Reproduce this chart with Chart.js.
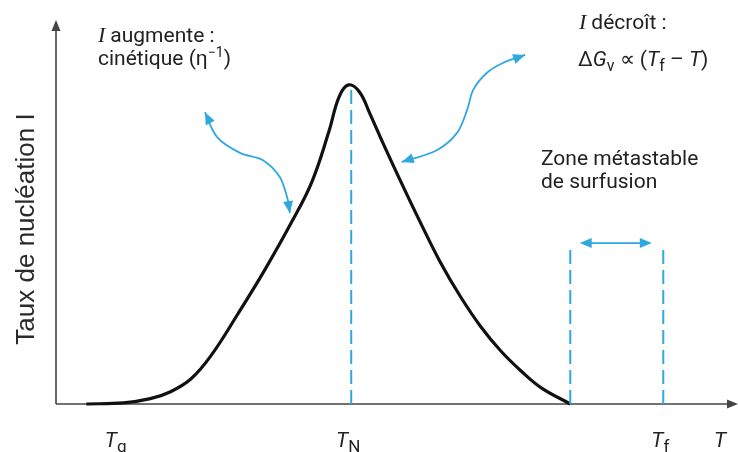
<!DOCTYPE html>
<html>
<head>
<meta charset="utf-8">
<script src="https://cdn.jsdelivr.net/npm/chart.js@4/dist/chart.umd.min.js"></script>
<style>
  html, body { margin: 0; background: #fff; }
  #wrap { width: 739px; height: 452px; }
</style>
</head>
<body>
<div id="wrap"><canvas id="chart" width="739" height="452"></canvas></div>
<script>
// temperature axis (0..100, arbitrary units) and nucleation rate I (0..100)
const tempX = [4.5, 10, 14, 17, 20, 23, 27, 31, 35, 38, 40.5, 42, 43.4,
               45, 46.6, 48.5, 51, 54, 57, 60, 63, 66, 69, 72, 76.3];
const rateI = [0, 0.3, 1.4, 3.2, 6.5, 12.6, 23.5, 35, 47.5, 58, 71, 80, 83.1,
               81.3, 75.5, 68, 58.5, 47.5, 37, 28, 20.2, 13.8, 8.6, 4.2, 0];

// marked temperatures on the T axis
const markerSub = ['g', 'N', 'f'];
const markerX = [9.3, 43.8, 90.1];
const peakLineTop = 83;

// metastable undercooling zone
const zoneX = [76.3, 90.1];
const zoneTop = 41.4;
const zoneArrowX = [77.7, 88.4];
const zoneArrowY = 41.9;

// curved annotation arrows (data units)
const arrowLeftX = [22.1, 23.9, 27.3, 30.7, 33.2, 34.4, 34.7];
const arrowLeftY = [76.0, 69.5, 65.4, 63.5, 59.1, 53.1, 49.7];
const arrowRightX = [51.3, 56.5, 59.5, 61.0, 61.9, 63.9, 66.3, 69.6];
const arrowRightY = [63.0, 66.1, 70.6, 76.6, 81.8, 86.2, 88.8, 90.9];

const BLUE = '#2fa8df';
const INK = '#222222';

const curve = tempX.map((x, i) => ({ x: x, y: rateI[i] }));

function vline(x, top) {
    return [{ x: x, y: 0 }, { x: x, y: top }];
}

function runs(ctx, x, y, parts) {
    // draw a row of text runs, each with its own font and vertical shift
    parts.forEach(p => {
        ctx.font = p.f;
        ctx.fillText(p.t, x, y + (p.dy || 0));
        x += ctx.measureText(p.t).width + (p.gap || 0);
    });
}

function arrowHead(ctx, from, to, len, half) {
    const a = Math.atan2(to.y - from.y, to.x - from.x);
    ctx.beginPath();
    ctx.moveTo(to.x, to.y);
    ctx.lineTo(to.x - len * Math.cos(a) + half * Math.sin(a), to.y - len * Math.sin(a) - half * Math.cos(a));
    ctx.lineTo(to.x - len * Math.cos(a) - half * Math.sin(a), to.y - len * Math.sin(a) + half * Math.cos(a));
    ctx.closePath();
    ctx.fill();
}

function smoothArrow(ctx, pts) {
    ctx.beginPath();
    ctx.moveTo(pts[0].x, pts[0].y);
    for (let i = 0; i < pts.length - 1; i++) {
        const p0 = pts[i - 1] || pts[i], p1 = pts[i], p2 = pts[i + 1], p3 = pts[i + 2] || p2;
        ctx.bezierCurveTo(p1.x + (p2.x - p0.x) / 6, p1.y + (p2.y - p0.y) / 6,
                          p2.x - (p3.x - p1.x) / 6, p2.y - (p3.y - p1.y) / 6, p2.x, p2.y);
    }
    ctx.stroke();
    const n = pts.length;
    arrowHead(ctx, pts[1], pts[0], 12, 5);
    arrowHead(ctx, pts[n - 2], pts[n - 1], 12, 5);
}

const drawAxes = {
    id: 'drawAxes',
    beforeDatasetsDraw(chart) {
        const { ctx, chartArea: a } = chart;
        ctx.save();
        ctx.strokeStyle = '#444';
        ctx.fillStyle = '#444';
        ctx.lineWidth = 1.6;
        ctx.beginPath();
        ctx.moveTo(a.left, a.bottom);
        ctx.lineTo(a.left, a.top + 6);
        ctx.moveTo(a.left, a.bottom);
        ctx.lineTo(a.right + 2, a.bottom);
        ctx.stroke();
        arrowHead(ctx, { x: a.left, y: a.bottom }, { x: a.left, y: a.top }, 11, 4.5);
        arrowHead(ctx, { x: a.left, y: a.bottom }, { x: a.right + 8, y: a.bottom }, 11, 4.5);

        // y axis title
        ctx.fillStyle = '#2a2a2a';
        ctx.save();
        ctx.translate(27, (a.top + a.bottom) / 2 + 17);
        ctx.rotate(-Math.PI / 2);
        ctx.font = '26px "Liberation Sans"';
        ctx.textAlign = 'center';
        ctx.textBaseline = 'middle';
        ctx.fillText('Taux de nucléation I', 0, 0);
        ctx.restore();
        ctx.restore();
    }
};

const annotate = {
    id: 'annotate',
    afterDatasetsDraw(chart) {
        const { ctx, chartArea: a } = chart;
        const xs = chart.scales.x, ys = chart.scales.y;
        const px = (x, y) => ({ x: xs.getPixelForValue(x), y: ys.getPixelForValue(y) });
        ctx.save();

        // blue arrows
        ctx.strokeStyle = BLUE;
        ctx.fillStyle = BLUE;
        ctx.lineWidth = 1.8;
        smoothArrow(ctx, arrowLeftX.map((x, i) => px(x, arrowLeftY[i])));
        smoothArrow(ctx, arrowRightX.map((x, i) => px(x, arrowRightY[i])));
        const z0 = px(zoneArrowX[0], zoneArrowY), z1 = px(zoneArrowX[1], zoneArrowY);
        ctx.beginPath();
        ctx.moveTo(z0.x + 4, z0.y);
        ctx.lineTo(z1.x - 4, z1.y);
        ctx.stroke();
        arrowHead(ctx, z1, z0, 12, 5);
        arrowHead(ctx, z0, z1, 12, 5);

        // text annotations
        ctx.fillStyle = INK;
        ctx.textBaseline = 'alphabetic';
        const sans = '21px Roboto';
        const small = '16px Roboto';
        runs(ctx, 98, 42, [
            { t: 'I', f: 'italic 22px "Liberation Serif"', gap: 5 },
            { t: 'augmente :', f: sans }
        ]);
        runs(ctx, 98, 65, [
            { t: 'cinétique (η', f: sans },
            { t: '−1', f: '14px Roboto', dy: -8 },
            { t: ')', f: sans }
        ]);
        runs(ctx, 579, 29, [
            { t: 'I', f: 'italic 22px "Liberation Serif"', gap: 5 },
            { t: 'décroît :', f: sans }
        ]);
        runs(ctx, 578, 66, [
            { t: 'Δ', f: sans },
            { t: 'G', f: 'italic 21px Roboto' },
            { t: 'v', f: small, dy: 5 },
            { t: ' ∝ (', f: sans },
            { t: 'T', f: 'italic 21px Roboto' },
            { t: 'f', f: small, dy: 5 },
            { t: ' – ', f: sans },
            { t: 'T', f: 'italic 21px Roboto' },
            { t: ')', f: sans }
        ]);
        ctx.font = sans;
        ctx.fillText('Zone métastable', 541, 165);
        ctx.fillText('de surfusion', 541, 188);

        // temperature labels under the axis
        markerSub.forEach((s, i) => {
            const p = px(markerX[i], 0);
            ctx.font = 'italic 21px Roboto';
            const wT = ctx.measureText('T').width;
            ctx.font = '17px Roboto';
            const wS = ctx.measureText(s).width;
            runs(ctx, p.x - 3 - (wT + wS) / 2, 447, [
                { t: 'T', f: 'italic 21px Roboto' },
                { t: s, f: '17px Roboto', dy: 5 }
            ]);
        });
        ctx.font = 'italic 21px Roboto';
        ctx.textAlign = 'center';
        ctx.fillText('T', a.right - 10, 447);
        ctx.restore();
    }
};

new Chart(document.getElementById('chart'), {
    type: 'scatter',
    data: {
        datasets: [
            {
                data: vline(markerX[1], peakLineTop),
                showLine: true, borderColor: BLUE, borderWidth: 2, borderDash: [14, 6],
                pointRadius: 0, clip: false
            },
            {
                data: vline(zoneX[0], zoneTop),
                showLine: true, borderColor: BLUE, borderWidth: 2, borderDash: [14, 6],
                pointRadius: 0, clip: false
            },
            {
                data: vline(zoneX[1], zoneTop),
                showLine: true, borderColor: BLUE, borderWidth: 2, borderDash: [14, 6],
                pointRadius: 0, clip: false
            },
            {
                data: curve,
                showLine: true, borderColor: '#111', borderWidth: 3.2,
                tension: 0.4, pointRadius: 0, clip: false
            }
        ]
    },
    options: {
        responsive: false,
        animation: false,
        layout: { padding: { left: 56, right: 9, top: 20, bottom: 48 } },
        scales: {
            x: { type: 'linear', min: 0, max: 100, display: false },
            y: { min: 0, max: 100, display: false }
        },
        plugins: { legend: { display: false }, tooltip: { enabled: false } }
    },
    plugins: [drawAxes, annotate]
});
</script>
</body>
</html>
